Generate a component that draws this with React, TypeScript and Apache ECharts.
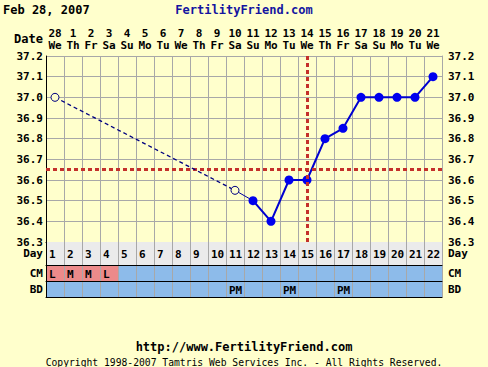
import React, { useEffect, useRef } from "react";
import * as echarts from "echarts";

const days = ["1","2","3","4","5","6","7","8","9","10","11","12","13","14","15","16","17","18","19","20","21","22"];
const dates = ["28","1","2","3","4","5","6","7","8","9","10","11","12","13","14","15","16","17","18","19","20","21"];
const weekdays = ["We","Th","Fr","Sa","Su","Mo","Tu","We","Th","Fr","Sa","Su","Mo","Tu","We","Th","Fr","Sa","Su","Mo","Tu","We"];
const temps: (number | null)[] = [37.0, null, null, null, null, null, null, null, null, null, 36.55, 36.5, 36.4, 36.6, 36.6, 36.8, 36.85, 37.0, 37.0, 37.0, 37.0, 37.1];
const openDays = [1, 11];
const cmValues = ["L","M","M","L","","","","","","","","","","","","","","","","","",""];
const bdValues = ["","","","","","","","","","","PM","","","PM","","","PM","","","","",""];
const rowLabels = ["Day", "CM", "BD"];
const coverline = 36.65;
const ovulationDay = "15";
const tempMin = 36.3;
const tempMax = 37.2;
const tempStep = 0.1;

const FONT = "'DejaVu Sans Mono', monospace";
const BG = "#FFFFCC";
const GRID = "#A8A8A8";
const RED = "#C4302B";
const PINK = "#EC8A8A";
const BLUE = "#8DBBEA";
const DAYBG = "#EBEBEB";

export default function App() {
  const ref = useRef<HTMLDivElement>(null);
  useEffect(() => {
    if (!ref.current) return;
    const chart = echarts.init(ref.current, undefined, { renderer: "svg" });

    const L = 46, W = 396;
    const grids = [
      { left: L, top: 56, width: W, height: 186 },
      { left: L, top: 242, width: W, height: 23 },
      { left: L, top: 265, width: W, height: 16 },
      { left: L, top: 281, width: W, height: 16 },
    ];

    const lastOpen = openDays[openDays.length - 1];
    const dashedData = temps.map((t, i) => (openDays.includes(i + 1) ? t : null));
    const connectorData = temps.map((t, i) => (i + 1 === lastOpen || i + 1 === lastOpen + 1 ? t : null));
    const mainData = temps.map((t, i) => (openDays.includes(i + 1) ? null : t));

    const topLabel = (margin: number, list: string[]) => ({
      gridIndex: 0, type: "category", data: days, boundaryGap: true, position: "top",
      axisLine: { show: false }, axisTick: { show: false }, splitLine: { show: false },
      axisLabel: {
        show: true, interval: 0, margin,
        fontFamily: FONT, fontWeight: "bold", fontSize: 11, color: "#000",
        formatter: (_v: string, i: number) => list[i],
      },
    });

    const xAxes: any[] = [
      {
        gridIndex: 0, type: "category", data: days, boundaryGap: true, position: "bottom",
        axisLine: { show: true, lineStyle: { color: "#000", width: 1 } },
        axisTick: { show: false }, axisLabel: { show: false },
        splitLine: { show: true, interval: 0, lineStyle: { color: GRID, width: 1 } },
      },
      topLabel(17, dates),
      topLabel(5, weekdays),
    ];
    const yAxes: any[] = [
      {
        gridIndex: 0, type: "value", min: tempMin, max: tempMax, interval: tempStep, position: "left",
        axisLine: { show: true, lineStyle: { color: "#000" } }, axisTick: { show: false },
        splitLine: { show: true, lineStyle: { color: GRID, width: 1 } },
        axisLabel: { margin: 3, fontFamily: FONT, fontWeight: "bold", fontSize: 11, color: "#000", formatter: (v: number) => v.toFixed(1) },
      },
      {
        gridIndex: 0, type: "value", min: tempMin, max: tempMax, interval: tempStep, position: "right",
        axisLine: { show: true, lineStyle: { color: GRID } }, axisTick: { show: false },
        splitLine: { show: false },
        axisLabel: { margin: 6, fontFamily: FONT, fontWeight: "bold", fontSize: 11, color: "#000", formatter: (v: number) => v.toFixed(1) },
      },
    ];

    const rowSeries: any[] = [];
    const rowTexts = [days, cmValues, bdValues];
    for (let r = 0; r < 3; r++) {
      const gi = r + 1;
      xAxes.push({
        gridIndex: gi, type: "category", data: days, boundaryGap: true, position: "bottom", z: 10,
        axisLine: { show: true, lineStyle: { color: "#000", width: 1 } },
        axisTick: { show: false }, axisLabel: { show: false },
        splitLine: { show: true, interval: 0, lineStyle: { color: GRID, width: 1 } },
      });
      const leftIdx = yAxes.length;
      yAxes.push({
        gridIndex: gi, type: "value", min: 0, max: 1, interval: 0.5, position: "left", z: 10,
        axisLine: { show: true, lineStyle: { color: "#000" } }, axisTick: { show: false }, splitLine: { show: false },
        axisLabel: { margin: 3, fontFamily: FONT, fontWeight: "bold", fontSize: 11, color: "#000", formatter: (v: number) => (v === 0.5 ? rowLabels[r] : "") },
      });
      yAxes.push({
        gridIndex: gi, type: "value", min: 0, max: 1, interval: 0.5, position: "right", z: 10,
        axisLine: { show: true, lineStyle: { color: GRID } }, axisTick: { show: false }, splitLine: { show: false },
        axisLabel: { margin: 6, fontFamily: FONT, fontWeight: "bold", fontSize: 11, color: "#000", formatter: (v: number) => (v === 0.5 ? rowLabels[r] : "") },
      });
      const texts = rowTexts[r];
      rowSeries.push({
        type: "bar", xAxisIndex: 3 + r, yAxisIndex: leftIdx, barCategoryGap: "0%", silent: true,
        data: days.map((_d, i) => ({
          value: 1,
          itemStyle: { color: r === 0 ? DAYBG : r === 1 && cmValues[i] ? PINK : BLUE },
        })),
        label: {
          show: true, position: "insideLeft", distance: 3, offset: [0, 1],
          fontFamily: FONT, fontWeight: "bold", fontSize: 11, color: "#000",
          formatter: (p: any) => texts[p.dataIndex],
        },
      });
    }

    chart.setOption({
      animation: false,
      backgroundColor: BG,
      grid: grids,
      xAxis: xAxes,
      yAxis: yAxes,
      graphic: [
        { type: "text", x: 3, y: 10, style: { text: "Feb 28, 2007", fontFamily: FONT, fontWeight: "bold", fontSize: 12, fill: "#000", textAlign: "left", textVerticalAlign: "middle" } },
        { type: "text", x: 244, y: 10, style: { text: "FertilityFriend.com", fontFamily: FONT, fontWeight: "bold", fontSize: 12, fill: "#1414A0", textAlign: "center", textVerticalAlign: "middle" } },
        { type: "text", x: 43, y: 39, style: { text: "Date", fontFamily: FONT, fontWeight: "bold", fontSize: 12, fill: "#000", textAlign: "right", textVerticalAlign: "middle" } },
        { type: "text", x: 244, y: 347, style: { text: "http://www.FertilityFriend.com", fontFamily: FONT, fontWeight: "bold", fontSize: 12, fill: "#000", textAlign: "center", textVerticalAlign: "middle" } },
        { type: "text", x: 244, y: 362, style: { text: "Copyright 1998-2007 Tamtris Web Services Inc. - All Rights Reserved.", fontFamily: FONT, fontSize: 9.7, fill: "#000", textAlign: "center", textVerticalAlign: "middle" } },
      ],
      series: [
        {
          type: "line", xAxisIndex: 0, yAxisIndex: 0, data: connectorData, connectNulls: false,
          symbol: "none", lineStyle: { color: "#0000A0", width: 1 }, z: 3, silent: true,
        },
        {
          type: "line", xAxisIndex: 0, yAxisIndex: 0, data: mainData, connectNulls: false,
          symbol: "circle", symbolSize: 9, lineStyle: { color: "#0000D0", width: 2 },
          itemStyle: { color: "#0000EE" }, z: 4, silent: true,
          markLine: {
            silent: true, symbol: ["none", "none"], label: { show: false },
            lineStyle: { color: RED, width: 3, type: [4, 3] },
            data: [{ yAxis: coverline }, { xAxis: ovulationDay }],
          },
        },
        {
          type: "line", xAxisIndex: 0, yAxisIndex: 0, data: dashedData, connectNulls: true,
          symbol: "circle", symbolSize: 8, showAllSymbol: true,
          lineStyle: { color: "#000080", width: 1.3, type: [4, 3] },
          itemStyle: { color: BG, borderColor: "#000080", borderWidth: 1 }, z: 5, silent: true,
        },
        ...rowSeries,
      ],
    });
    return () => chart.dispose();
  }, []);
  return <div ref={ref} style={{ position: "absolute", left: 0, top: 0, width: 488, height: 367 }} />;
}
